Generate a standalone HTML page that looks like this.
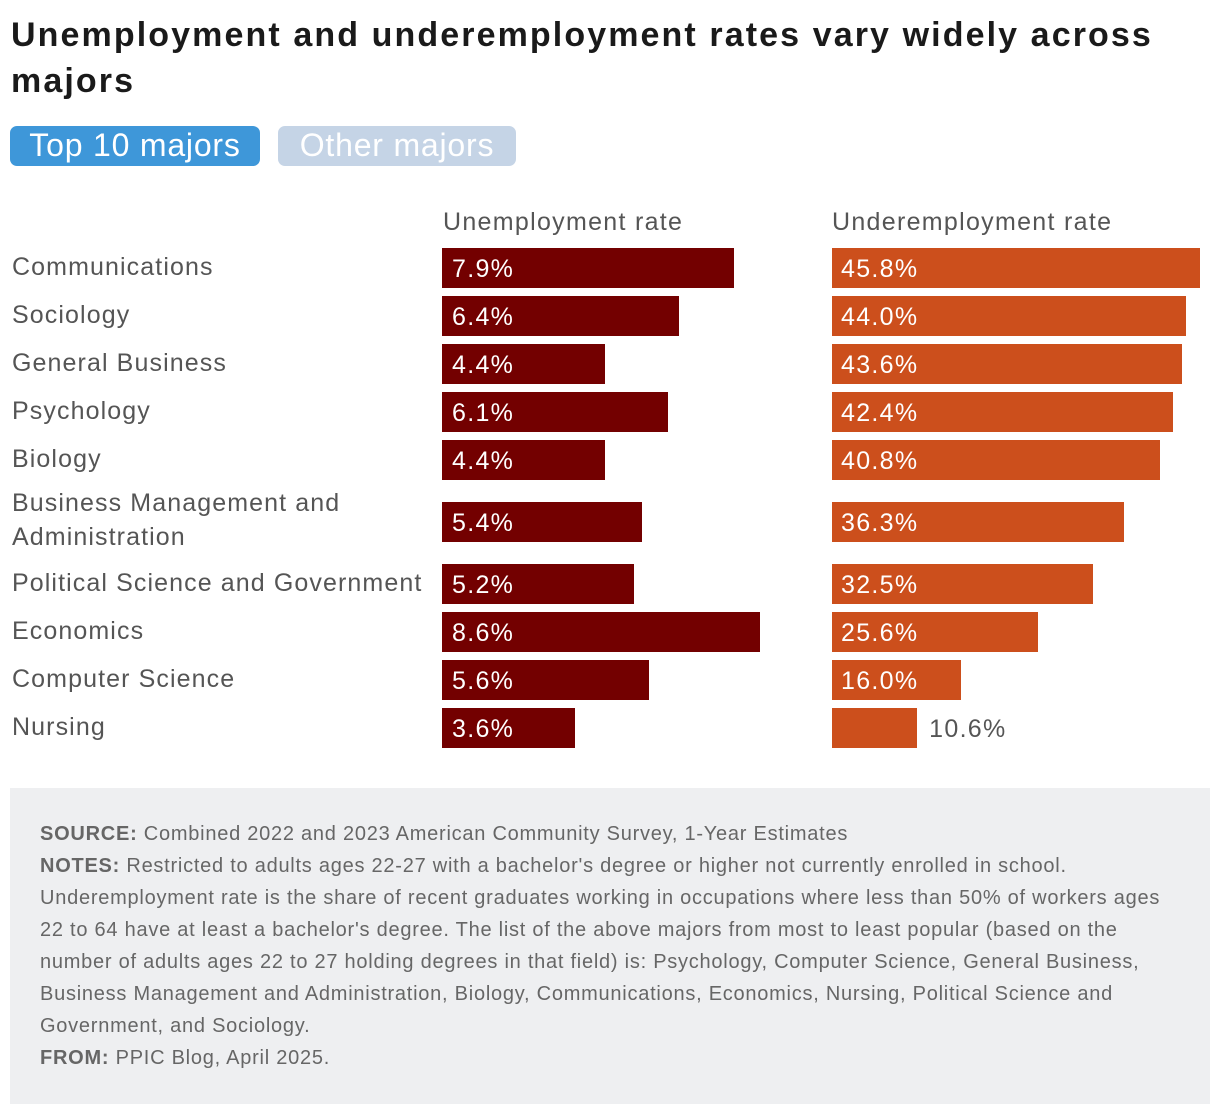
<!DOCTYPE html>
<html><head><meta charset="utf-8">
<style>
body{margin:0;width:1220px;height:1114px;background:#fff;font-family:"Liberation Sans",sans-serif;position:relative;overflow:hidden}
h1{position:absolute;left:11px;top:12px;margin:0;font-size:34px;line-height:46px;font-weight:bold;color:#1a1a1a;width:1170px;letter-spacing:2.1px}
.btn{position:absolute;top:126px;height:40px;border-radius:7px;font-size:32px;line-height:38px;color:#fff;text-align:center;letter-spacing:0.8px}
.hdr{position:absolute;top:208px;font-size:25px;color:#555;letter-spacing:1.3px}
.lbl{position:absolute;left:12px;font-size:25px;color:#555;line-height:34px;letter-spacing:1.1px}
.bar{position:absolute;height:40px}
.val{position:absolute;font-size:25px;line-height:42px;color:#fff;letter-spacing:1.3px}
#foot{position:absolute;left:10px;top:788px;width:1200px;height:316px;background:#eeeff1}
#foot p{margin:0;position:absolute;left:30px;top:30px;width:1150px;font-size:20px;line-height:32px;color:#666;letter-spacing:0.75px}
#foot b{color:#666}
</style></head><body>
<h1>Unemployment and underemployment rates vary widely across majors</h1>
<div class="btn" style="left:10px;width:250px;background:#3e97d9">Top 10 majors</div>
<div class="btn" style="left:278px;width:238px;background:#c5d4e6">Other majors</div>
<div class="hdr" style="left:443px">Unemployment rate</div>
<div class="hdr" style="left:832px">Underemployment rate</div>
<div id="chart"></div>
<div id="foot"><p><b>SOURCE:</b> Combined 2022 and 2023 American Community Survey, 1-Year Estimates<br><b>NOTES:</b> Restricted to adults ages 22-27 with a bachelor's degree or higher not currently enrolled in school. Underemployment rate is the share of recent graduates working in occupations where less than 50% of workers ages 22 to 64 have at least a bachelor's degree. The list of the above majors from most to least popular (based on the number of adults ages 22 to 27 holding degrees in that field) is: Psychology, Computer Science, General Business, Business Management and Administration, Biology, Communications, Economics, Nursing, Political Science and Government, and Sociology.<br><b>FROM:</b> PPIC Blog, April 2025.</p></div>
<script>
const categories=["Communications","Sociology","General Business","Psychology","Biology","Business Management and Administration","Political Science and Government","Economics","Computer Science","Nursing"];
const unemployment=[7.9,6.4,4.4,6.1,4.4,5.4,5.2,8.6,5.6,3.6];
const underemployment=[45.8,44.0,43.6,42.4,40.8,36.3,32.5,25.6,16.0,10.6];
const twoLine=[false,false,false,false,false,true,false,false,false,false];
const xU=v=>442+v*36.97;
const xO=v=>832+v*8.035;
const c=document.getElementById('chart');
let y=248;
categories.forEach((cat,i)=>{
  const l=document.createElement('div');l.className='lbl';
  
  
  if(twoLine[i]){l.style.top=(y-16)+'px';l.style.width='400px';l.innerHTML='Business Management and<br>Administration';}
  else{l.style.top=(y+2)+'px';l.style.whiteSpace='nowrap';l.textContent=cat;}
  c.appendChild(l);
  const b1=document.createElement('div');b1.className='bar';
  
  
  b1.style.cssText+=`left:442px;top:${y}px;width:${xU(unemployment[i])-442}px;background:#730000`;
  c.appendChild(b1);
  const v1=document.createElement('div');v1.className='val';
  
  
  v1.style.cssText+=`left:452px;top:${y}px`;v1.textContent=unemployment[i].toFixed(1)+'%';
  c.appendChild(v1);
  const w=xO(underemployment[i])-832;
  const b2=document.createElement('div');b2.className='bar';
  
  
  b2.style.cssText+=`left:832px;top:${y}px;width:${w}px;background:#cc4f1c`;
  c.appendChild(b2);
  const v2=document.createElement('div');v2.className='val';
  
  
  if(w<110){v2.style.cssText+=`left:${832+w+12}px;top:${y}px;color:#555`;}
  else v2.style.cssText+=`left:841px;top:${y}px`;
  v2.textContent=underemployment[i].toFixed(1)+'%';
  c.appendChild(v2);
  y+=twoLine[i]?62:(twoLine[i+1]?62:48);
});
</script>
</body></html>
